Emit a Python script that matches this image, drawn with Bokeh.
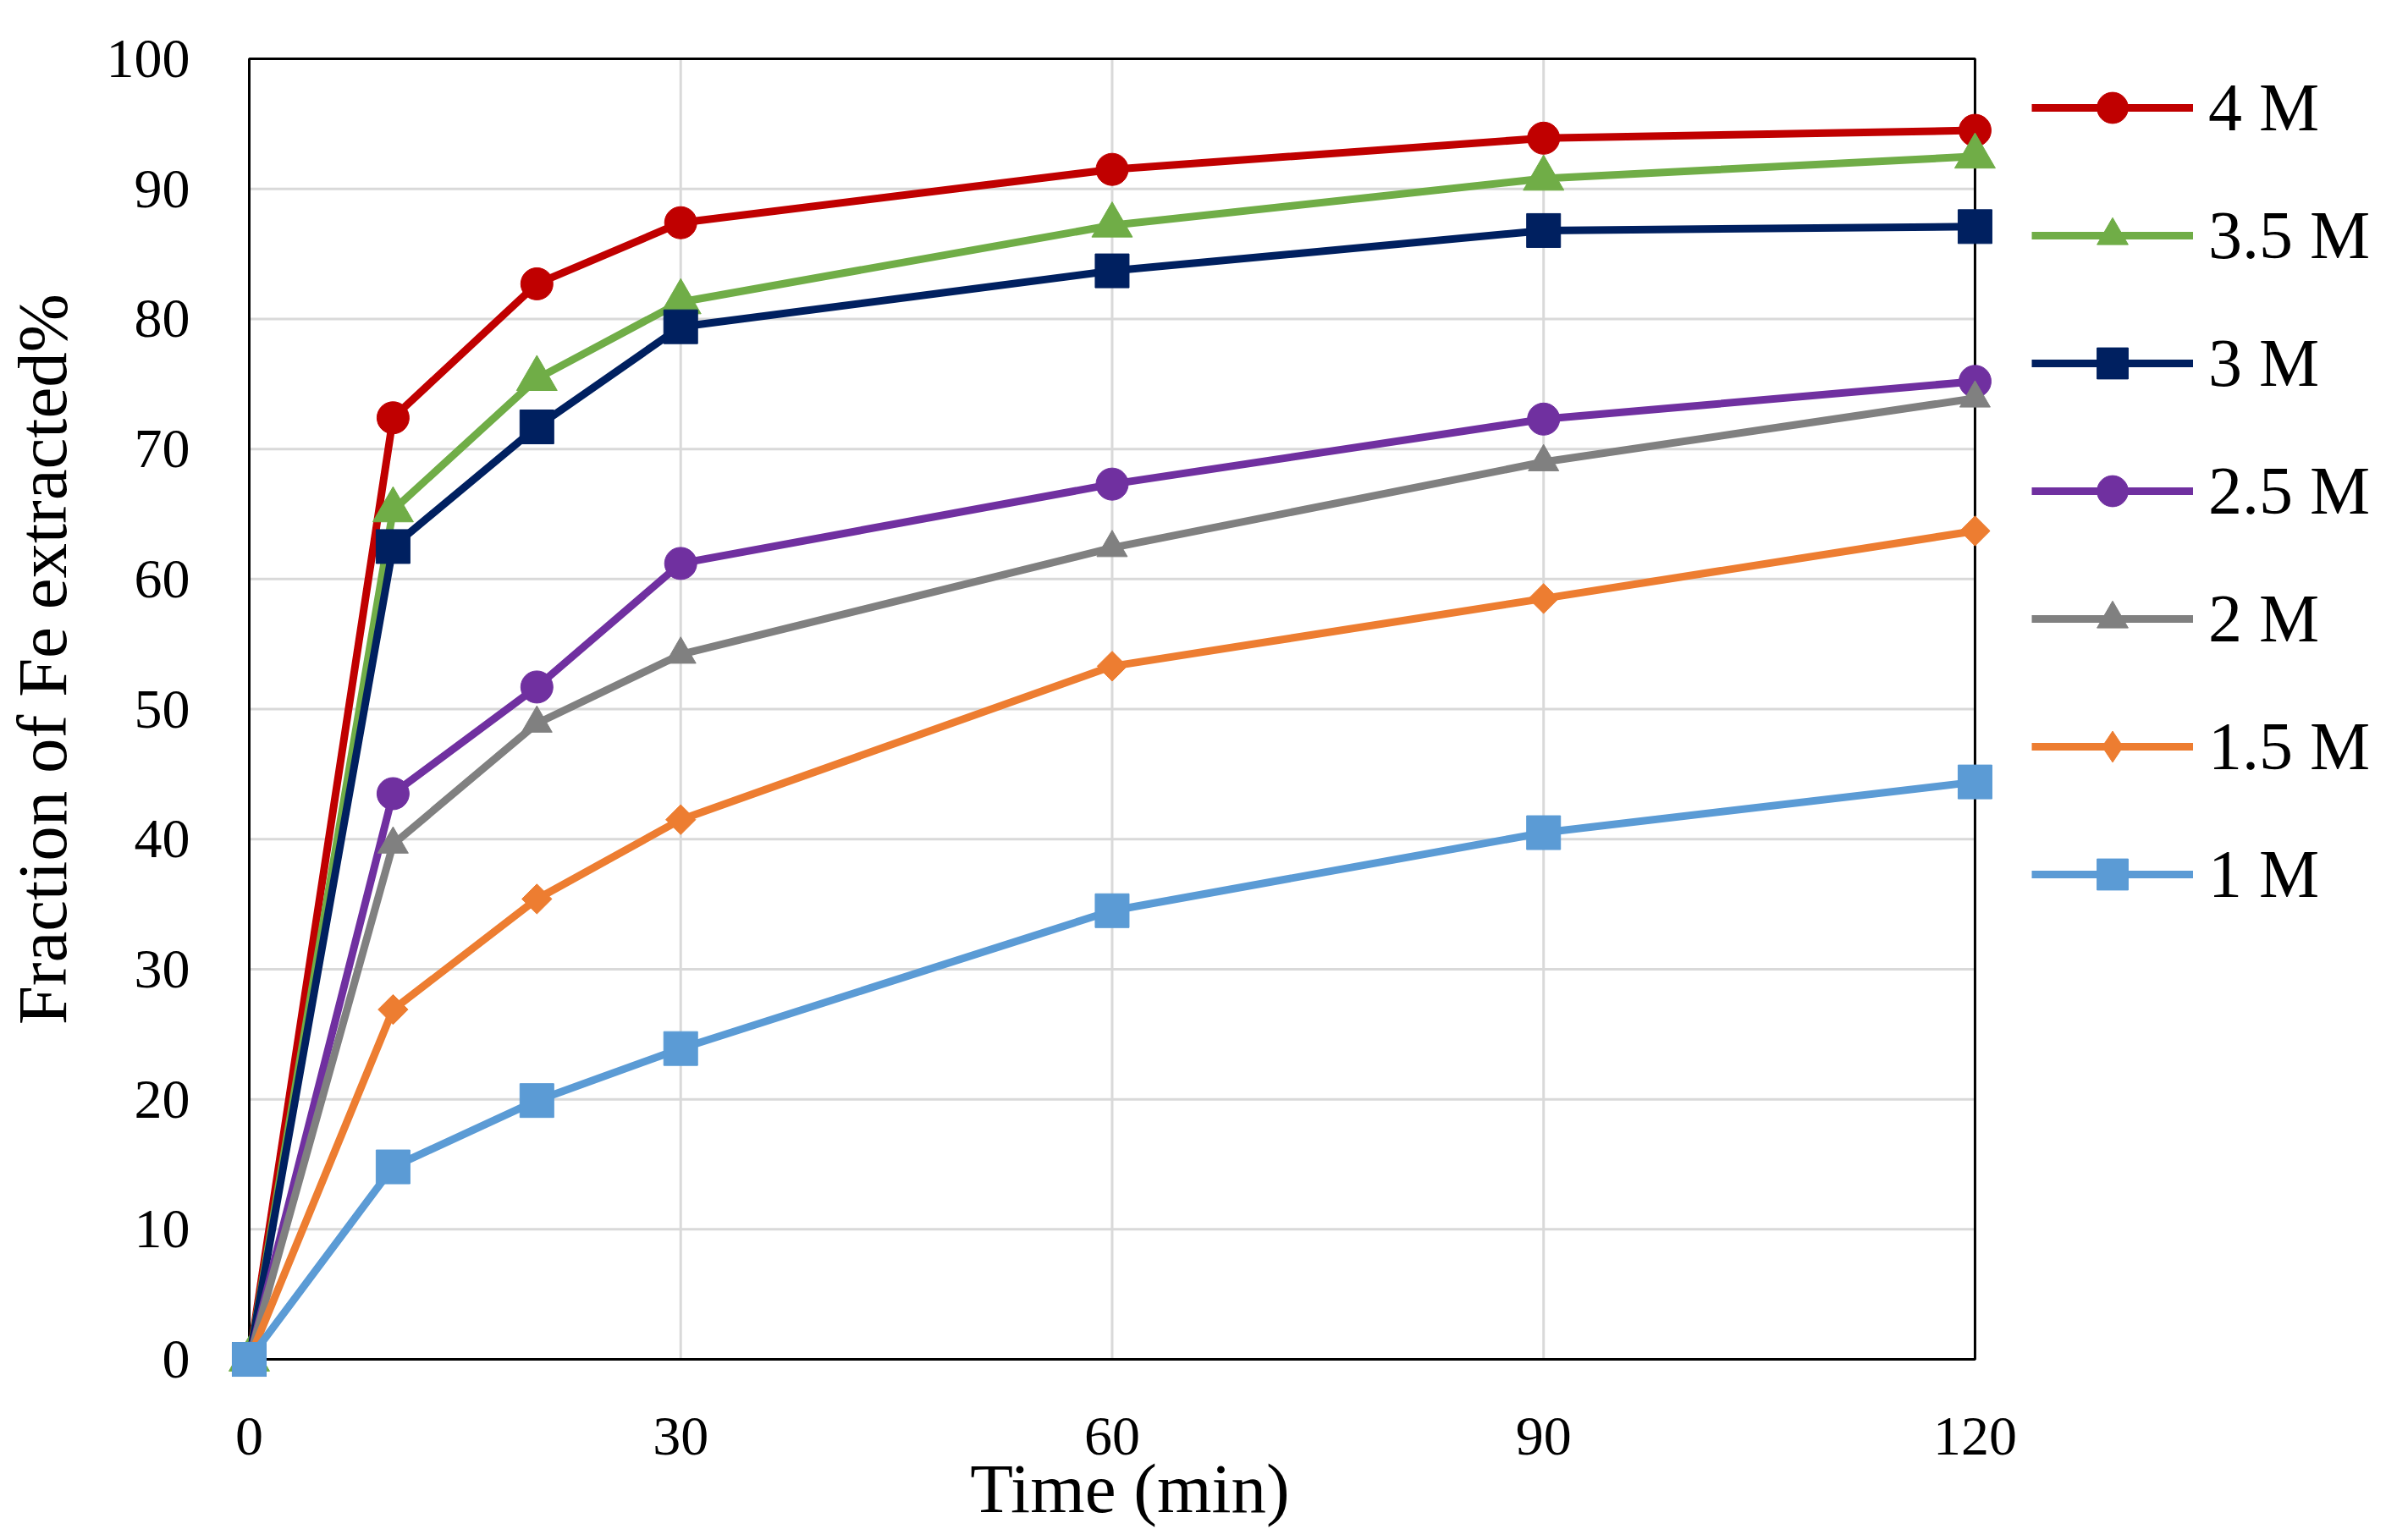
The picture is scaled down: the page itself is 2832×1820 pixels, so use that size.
import math
from bokeh.plotting import figure
from bokeh.models import Range1d, FixedTicker, Legend, LegendItem
from bokeh.embed import file_html
from bokeh.resources import INLINE

time_min = [0, 10, 20, 30, 60, 90, 120]
series_names = ["4 M", "3.5 M", "3 M", "2.5 M", "2 M", "1.5 M", "1 M"]
fe_4m = [0, 72.4, 82.7, 87.4, 91.5, 93.9, 94.5]
fe_35m = [0, 65.3, 75.4, 81.3, 87.2, 90.8, 92.5]
fe_3m = [0, 62.5, 71.7, 79.4, 83.7, 86.8, 87.1]
fe_25m = [0, 43.5, 51.7, 61.2, 67.3, 72.3, 75.2]
fe_2m = [0, 39.6, 48.9, 54.2, 62.4, 69.0, 73.9]
fe_15m = [0, 26.9, 35.4, 41.5, 53.3, 58.5, 63.7]
fe_1m = [0, 14.8, 19.9, 23.9, 34.5, 40.5, 44.4]
x_ticks = [0, 30, 60, 90, 120]
y_ticks = [0, 10, 20, 30, 40, 50, 60, 70, 80, 90, 100]

series = [fe_4m, fe_35m, fe_3m, fe_25m, fe_2m, fe_15m, fe_1m]
colors = ["#C00000", "#70AD47", "#002060", "#7030A0", "#808080", "#ED7D31", "#5B9BD5"]
markers = ["circle", "triangle", "square", "circle", "triangle", "square", "square"]
legend_markers = ["circle", "triangle", "square", "circle", "triangle", "diamond", "square"]
msizes = [38, 48, 40, 38, 36, 25, 40]
angles = [0, 0, 0, 0, 0, math.pi / 4, 0]

FONT = "Liberation Serif"
NB = "\u00a0"
x0, x1 = x_ticks[0], x_ticks[-1]
y0, y1 = y_ticks[0], y_ticks[-1]

# frame extends a little past the data box (so edge markers are not clipped)
# and to the right far enough to hold the legend
p = figure(width=2824, height=1812, output_backend="svg", toolbar_location=None,
           x_range=Range1d(x0 - 2, x1 + 28.9), y_range=Range1d(y0 - 1.95, y1 + 1.5))
p.title.visible = False
p.min_border_left = 260
p.min_border_right = 0
p.min_border_top = 46
p.min_border_bottom = 176
p.background_fill_color = "white"
p.border_fill_color = "white"
p.outline_line_color = None

p.xaxis.ticker = FixedTicker(ticks=x_ticks)
p.yaxis.ticker = FixedTicker(ticks=y_ticks)
for ax in (p.xaxis[0], p.yaxis[0]):
    ax.axis_line_color = None
    ax.major_tick_line_color = None
    ax.minor_tick_line_color = None
    ax.major_tick_in = 0
    ax.major_tick_out = 0
    ax.major_label_text_font = FONT
    ax.major_label_text_font_size = "66px"
    ax.major_label_text_color = "black"
    ax.axis_label_text_font = FONT
    ax.axis_label_text_font_size = "83px"
    ax.axis_label_text_font_style = "normal"
    ax.axis_label_text_color = "black"
p.xaxis.axis_label = "Time (min)" + NB * 20
p.yaxis.axis_label = NB * 6 + "Fraction of Fe extracted%"
p.xaxis.major_label_standoff = 39
p.xaxis.axis_label_standoff = -9
p.yaxis.major_label_standoff = 36
p.yaxis.axis_label_standoff = 27

p.xgrid.grid_line_color = None
p.ygrid.grid_line_color = None

# gridlines inside the data box
gx = x_ticks[1:-1]
p.segment(x0=gx, y0=[y0] * len(gx), x1=gx, y1=[y1] * len(gx),
          line_color="#D9D9D9", line_width=3)
gy = y_ticks[1:-1]
p.segment(x0=[x0] * len(gy), y0=gy, x1=[x1] * len(gy), y1=gy,
          line_color="#D9D9D9", line_width=3)
# plot-area border
p.quad(left=[x0], right=[x1], bottom=[y0], top=[y1], fill_color=None,
       line_color="black", line_width=3)

items = []
for name, vals, c, m, lm, s, a in zip(series_names, series, colors, markers,
                                      legend_markers, msizes, angles):
    ln = p.line(time_min, vals, line_color=c, line_width=9)
    if lm != m:
        # legend swatch shape; drawn beneath the (larger) rotated-square markers
        lg = p.scatter(time_min, vals, marker=lm, size=32, fill_color=c, line_color=c)
        p.scatter(time_min, vals, marker=m, size=s, angle=a, fill_color=c, line_color=c)
    else:
        lg = p.scatter(time_min, vals, marker=m, size=s, angle=a, fill_color=c, line_color=c)
    items.append(LegendItem(label=name, renderers=[ln, lg]))

legend = Legend(items=items, location=(2140, 557), orientation="vertical")
legend.glyph_width = 191
legend.glyph_height = 92
legend.label_height = 92
legend.spacing = 59
legend.padding = 0
legend.margin = 0
legend.label_standoff = 18
legend.label_text_font = FONT
legend.label_text_font_size = "80px"
legend.label_text_color = "black"
legend.background_fill_alpha = 0
legend.border_line_color = None
p.add_layout(legend, "center")

open("out.html", "w").write(file_html(p, INLINE))
